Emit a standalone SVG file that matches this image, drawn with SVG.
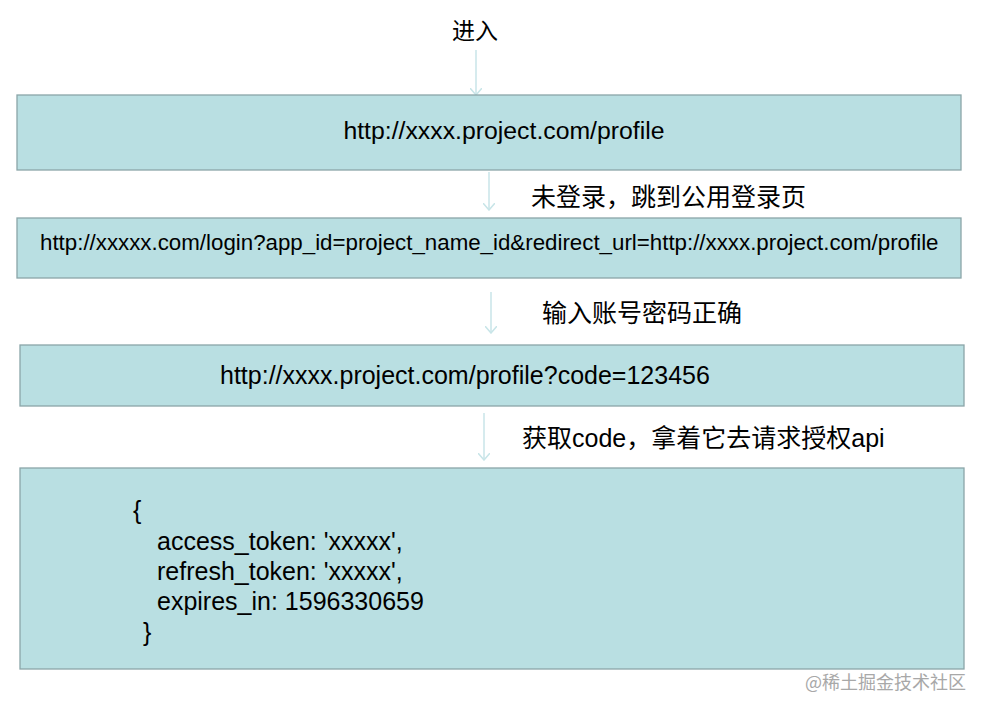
<svg xmlns="http://www.w3.org/2000/svg" width="986" height="712" viewBox="0 0 986 712">
<defs>
<style>
.box{fill:#b9dfe2;stroke:#8aa5a8;stroke-width:1.3}
.t{font-family:"Liberation Sans",Arial,sans-serif;fill:#000}
.cn{font-family:"Liberation Serif","Noto Sans CJK SC",serif;fill:#000;font-size:25px}
.conn{stroke:#c8e5e8;stroke-width:1.5;fill:none}
</style>
<marker id="ah" markerWidth="8" markerHeight="12" refX="7" refY="6" orient="auto" markerUnits="userSpaceOnUse" viewBox="0 0 8 12">
<path d="M0,0 L7,6 L0,12" fill="none" stroke="#c8e5e8" stroke-width="1.5"/>
</marker>
</defs>
<rect width="986" height="712" fill="#fff"/>
<g id="connectors">
<line class="conn" x1="476" y1="50" x2="476" y2="95" marker-end="url(#ah)"/>
<line class="conn" x1="489" y1="172" x2="489" y2="210" marker-end="url(#ah)"/>
<line class="conn" x1="491" y1="292" x2="491" y2="333" marker-end="url(#ah)"/>
<line class="conn" x1="484" y1="413" x2="484" y2="460" marker-end="url(#ah)"/>
</g>
<g id="labels">
<text class="cn" x="452" y="39" style="font-size:23px">进入</text>
<text class="cn" x="531" y="206">未登录，跳到公用登录页</text>
<text class="cn" x="542" y="322">输入账号密码正确</text>
<text class="cn" x="522" y="447">获取<tspan class="t">code</tspan>，拿着它去请求授权<tspan class="t">api</tspan></text>
</g>
<g id="node1">
<rect class="box" x="17" y="95" width="944" height="75"/>
<text class="t" x="504" y="139" font-size="24.8" text-anchor="middle">http://xxxx.project.com/profile</text>
</g>
<g id="node2">
<rect class="box" x="17" y="218" width="944" height="60"/>
<text class="t" x="40" y="250" font-size="22.3">http://xxxxx.com/login?app_id=project_name_id&amp;redirect_url=http://xxxx.project.com/profile</text>
</g>
<g id="node3">
<rect class="box" x="20" y="345" width="944" height="61"/>
<text class="t" x="220" y="384" font-size="25">http://xxxx.project.com/profile?code=123456</text>
</g>
<g id="node4">
<rect class="box" x="20" y="468" width="944" height="201"/>
<g class="t" font-size="25">
<text x="133" y="519">{</text>
<text x="157" y="550">access_token: 'xxxxx',</text>
<text x="157" y="580">refresh_token: 'xxxxx',</text>
<text x="157" y="610">expires_in: 1596330659</text>
<text x="143" y="641">}</text>
</g>
</g>
<text x="805" y="689" font-family="'Noto Sans CJK SC',sans-serif" font-size="18" fill="#a8a8a8">@稀土掘金技术社区</text>
</svg>
